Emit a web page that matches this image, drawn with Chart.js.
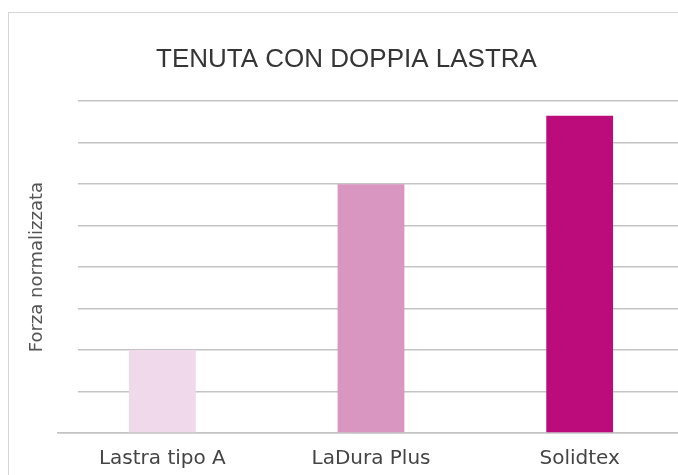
<!DOCTYPE html>
<html>
<head>
<meta charset="utf-8">
<script src="https://cdn.jsdelivr.net/npm/chart.js@4.4.0/dist/chart.umd.min.js"></script>
<style>
  html, body { margin: 0; padding: 0; background: #fff; overflow: hidden; }
  #frame {
    position: absolute; left: 8px; top: 12px;
    width: 720px; height: 520px;
    border-left: 1px solid #d6d6d6;
    border-top: 1px solid #d6d6d6;
  }
  #chart { display: block; }
</style>
</head>
<body>
<div id="frame">
  <canvas id="chart" width="678" height="477"></canvas>
</div>
<script>
const categories = ['Lastra tipo A', 'LaDura Plus', 'Solidtex'];
const values = [2, 6, 7.65];
const barColors = ['#efd9eb', '#d996c1', '#bc0c7c'];

// grid lines start a bit right of the plot edge; only the baseline runs the full width
const gridInset = {
    id: 'gridInset',
    beforeDatasetsDraw(chart) {
        const a = chart.chartArea;
        const ctx = chart.ctx;
        ctx.save();
        ctx.fillStyle = '#ffffff';
        ctx.fillRect(a.left - 1, a.top - 3, 21, a.bottom - a.top);
        ctx.restore();
    }
};

const context = document.getElementById('chart');
const myChart = new Chart(context, {
    type: 'bar',
    data: {
        labels: categories,
        datasets: [{
            label: 'Forza normalizzata',
            data: values,
            backgroundColor: barColors,
            borderWidth: 0,
            barPercentage: 0.32,
            categoryPercentage: 1
        }]
    },
    options: {
        responsive: false,
        animation: false,
        layout: {
            padding: { left: 0, right: 3, top: 0, bottom: 5 }
        },
        plugins: {
            legend: { display: false },
            tooltip: { enabled: false },
            title: {
                display: true,
                text: 'TENUTA CON DOPPIA LASTRA',
                color: '#353535',
                font: { family: 'Liberation Sans', size: 26, weight: 'normal' },
                padding: { top: 31, bottom: 26 }
            }
        },
        scales: {
            x: {
                grid: { display: false, drawTicks: false },
                border: { color: '#c4c4c4', width: 1.5 },
                ticks: {
                    color: '#444444',
                    font: { family: 'DejaVu Sans', size: 20 },
                    padding: 14
                }
            },
            y: {
                min: 0,
                max: 8,
                ticks: { display: false, stepSize: 1 },
                grid: { color: '#c4c4c4', lineWidth: 1.5, drawTicks: false },
                border: { display: false },
                title: {
                    display: true,
                    text: 'Forza normalizzata',
                    color: '#555555',
                    font: { family: 'DejaVu Sans', size: 18, weight: 'normal' },
                    padding: { top: 18, bottom: 10 }
                },
                afterFit(scale) { scale.width = 49; }
            }
        }
    },
    plugins: [gridInset]
});
</script>
</body>
</html>
